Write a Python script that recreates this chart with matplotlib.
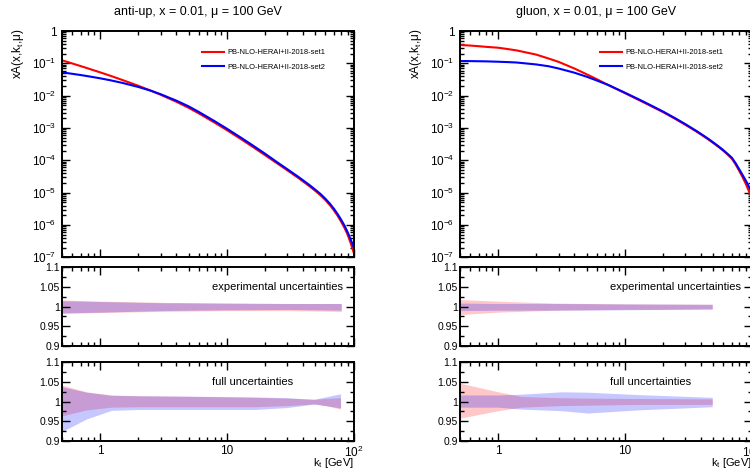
import numpy as np
import matplotlib

matplotlib.use('Agg')
import matplotlib.pyplot as plt
from matplotlib.ticker import LogLocator, FixedLocator, FuncFormatter, NullFormatter, MultipleLocator

plt.rcParams['font.family'] = ['Liberation Sans', 'DejaVu Sans']
plt.rcParams['mathtext.default'] = 'regular'

# ---- anti-up central values
kt_ubar = [0.5, 0.6, 0.7, 0.8, 1.0, 1.2, 1.5, 2.0, 2.5, 3.0, 4.0, 5.0, 6.0, 8.0, 10, 13, 16,
           20, 25, 30, 37, 45, 50, 55, 60, 65, 70, 75, 80, 85, 90, 95, 100]
ubar_set1 = [0.124, 0.0995, 0.0824, 0.0698, 0.0526, 0.0414, 0.0305, 0.0202, 0.0144, 0.0107,
             6.47e-3, 4.20e-3, 2.84e-3, 1.47e-3, 8.61e-4, 4.47e-4, 2.62e-4, 1.45e-4, 8.02e-5,
             4.92e-5, 2.78e-5, 1.57e-5, 1.13e-5, 8.22e-6, 5.90e-6, 4.14e-6, 2.84e-6, 1.91e-6,
             1.25e-6, 8.05e-7, 4.93e-7, 2.76e-7, 1.47e-7]
ubar_set2 = [0.0526, 0.0475, 0.0435, 0.0400, 0.0344, 0.0300, 0.0248, 0.0186, 0.0143, 0.0111,
             7.01e-3, 4.66e-3, 3.15e-3, 1.63e-3, 9.55e-4, 4.95e-4, 2.90e-4, 1.61e-4, 8.69e-5,
             5.33e-5, 3.01e-5, 1.71e-5, 1.23e-5, 9.02e-6, 6.47e-6, 4.59e-6, 3.19e-6, 2.16e-6,
             1.44e-6, 9.46e-7, 5.93e-7, 3.56e-7, 2.09e-7]

# ---- gluon central values
kt_g = [0.5, 0.6, 0.7, 0.8, 1.0, 1.2, 1.4, 2.0, 2.5, 3.0, 4.0, 5.0, 6.0, 7.4, 10, 13, 16,
        20, 25, 30, 37, 45, 50, 55, 60, 65, 70, 75, 80, 85, 90, 95, 100]
g_set1 = [0.369, 0.355, 0.339, 0.324, 0.304, 0.275, 0.251, 0.186, 0.141, 0.111, 0.0692,
          0.0457, 0.0324, 0.0213, 0.0120, 7.23e-3, 4.82e-3, 3.10e-3, 1.91e-3, 1.26e-3,
          7.62e-4, 4.58e-4, 3.40e-4, 2.58e-4, 1.96e-4, 1.49e-4, 1.12e-4, 7.40e-5, 4.71e-5,
          3.01e-5, 1.90e-5, 1.15e-5, 6.95e-6]
g_set2 = [0.118, 0.117, 0.116, 0.115, 0.112, 0.109, 0.106, 0.0923, 0.0813, 0.0692, 0.0513,
          0.0385, 0.0295, 0.0214, 0.0124, 7.57e-3, 5.05e-3, 3.24e-3, 2.00e-3, 1.32e-3,
          7.98e-4, 4.80e-4, 3.56e-4, 2.70e-4, 2.06e-4, 1.56e-4, 1.20e-4, 8.11e-5, 5.28e-5,
          3.53e-5, 2.39e-5, 1.59e-5, 1.05e-5]

# ---- anti-up ratio bands
kt_ubar_exp = [0.5, 1, 3, 10, 30, 80]
ubar_exp1_up = [1.017, 1.014, 1.011, 1.009, 1.008, 1.008]
ubar_exp1_dn = [0.983, 0.985, 0.988, 0.990, 0.990, 0.988]
ubar_exp2_up = [1.015, 1.013, 1.010, 1.009, 1.008, 1.008]
ubar_exp2_dn = [0.984, 0.986, 0.990, 0.992, 0.993, 0.991]

kt_ubar_full = [0.5, 0.78, 1.23, 2, 5, 16.5, 30, 49, 60, 79]
ubar_full1_up = [1.042, 1.025, 1.017, 1.015, 1.0135, 1.011, 1.009, 1.006, 1.008, 1.010]
ubar_full1_dn = [0.964, 0.979, 0.986, 0.987, 0.987, 0.987, 0.990, 0.994, 0.990, 0.981]
ubar_full2_up = [1.038, 1.024, 1.016, 1.015, 1.014, 1.012, 1.010, 1.006, 1.012, 1.020]
ubar_full2_dn = [0.924, 0.956, 0.978, 0.980, 0.980, 0.980, 0.985, 0.994, 0.990, 0.984]

# ---- gluon ratio bands
kt_g_exp = [0.5, 1, 2.8, 10, 49]
g_exp1_up = [1.018, 1.014, 1.009, 1.007, 1.006]
g_exp1_dn = [0.980, 0.986, 0.991, 0.993, 0.994]
g_exp2_up = [1.009, 1.008, 1.008, 1.007, 1.006]
g_exp2_dn = [0.990, 0.991, 0.991, 0.992, 0.994]

kt_g_full = [0.5, 1, 1.53, 3.16, 5.1, 12.6, 49]
g_full1_up = [1.047, 1.025, 1.013, 1.010, 1.009, 1.008, 1.007]
g_full1_dn = [0.958, 0.977, 0.986, 0.990, 0.991, 0.993, 0.993]
g_full2_up = [1.017, 1.017, 1.019, 1.025, 1.024, 1.018, 1.011]
g_full2_dn = [0.986, 0.986, 0.981, 0.977, 0.971, 0.979, 0.987]

titles = ['anti-up, x = 0.01, \u03bc = 100 GeV', 'gluon, x = 0.01, \u03bc = 100 GeV']
labels = ['PB-NLO-HERAI+II-2018-set1', 'PB-NLO-HERAI+II-2018-set2']

W, H = 750, 475
fig = plt.figure(figsize=(7.5, 4.75), dpi=100)


def box(x0, ytop, ybot):
    return [x0 / W, 1 - ybot / H, 291.5 / W, (ybot - ytop) / H]


def style(ax):
    for s in ax.spines.values():
        s.set_linewidth(1.4)
    ax.tick_params(which='both', direction='in', top=True, right=True, width=1.0, labelsize=8.5)
    ax.tick_params(which='major', length=5.5)
    ax.tick_params(which='minor', length=3)
    ax.set_xscale('log')
    ax.set_xlim(0.5, 100)
    ax.xaxis.set_major_locator(FixedLocator([1, 10, 100]))
    ax.xaxis.set_minor_locator(LogLocator(base=10, subs=np.arange(2, 10)))
    ax.xaxis.set_minor_formatter(NullFormatter())


def xfmt(v, pos):
    return '$10^{2}$' if v >= 100 else '%g' % v


def yfmt(v, pos):
    return '1' if v == 1 else '$10^{%d}$' % round(np.log10(v))


panels = [
    (62, kt_ubar, ubar_set1, ubar_set2,
     (kt_ubar_exp, ubar_exp1_up, ubar_exp1_dn, ubar_exp2_up, ubar_exp2_dn),
     (kt_ubar_full, ubar_full1_up, ubar_full1_dn, ubar_full2_up, ubar_full2_dn)),
    (460, kt_g, g_set1, g_set2,
     (kt_g_exp, g_exp1_up, g_exp1_dn, g_exp2_up, g_exp2_dn),
     (kt_g_full, g_full1_up, g_full1_dn, g_full2_up, g_full2_dn)),
]

for i, (x0, kt, s1, s2, exp, full) in enumerate(panels):
    ax = fig.add_axes(box(x0, 31, 257.3))
    style(ax)
    ax.plot(kt, s1, color='red', lw=1.5, label=labels[0])
    ax.plot(kt, s2, color='blue', lw=1.5, label=labels[1])
    ax.set_yscale('log')
    ax.set_ylim(1e-7, 1)
    ax.yaxis.set_major_locator(LogLocator(base=10, numticks=10))
    ax.yaxis.set_minor_locator(LogLocator(base=10, subs=np.arange(2, 10), numticks=10))
    ax.yaxis.set_major_formatter(FuncFormatter(yfmt))
    ax.yaxis.set_minor_formatter(NullFormatter())
    ax.tick_params(axis='y', pad=4)
    ax.set_xticklabels([])
    ax.text(-0.15, 1.01, 'xA(x,k$_{t}$,\u03bc)', rotation=90, ha='center', va='top',
            fontsize=8.5, transform=ax.transAxes)
    ax.text(0.467, 1.086, titles[i], ha='center', va='center', fontsize=9, transform=ax.transAxes)
    ax.legend(loc='upper left', bbox_to_anchor=(0.48, 0.92), frameon=False, fontsize=5.4,
              handlelength=2.9, handletextpad=0.5, labelspacing=0.95, borderaxespad=0, borderpad=0)

    for j, (band, txt, ytop, ybot) in enumerate([(exp, 'experimental uncertainties', 267.3, 346),
                                                 (full, 'full uncertainties', 362.3, 441)]):
        r = fig.add_axes(box(x0, ytop, ybot))
        style(r)
        k, u1, d1, u2, d2 = band
        r.fill_between(k, d1, u1, color='red', alpha=0.22, lw=0)
        r.fill_between(k, d2, u2, color='blue', alpha=0.22, lw=0)
        r.set_ylim(0.9, 1.1)
        r.yaxis.set_major_locator(FixedLocator([0.9, 0.95, 1.0, 1.05, 1.1]))
        r.yaxis.set_minor_locator(MultipleLocator(0.025))
        r.yaxis.set_major_formatter(FuncFormatter(lambda v, p: '%g' % v))
        r.tick_params(axis='y', pad=1.5, labelsize=7.5)
        r.text(0.515, 0.75, txt, ha='left', va='center', fontsize=8, transform=r.transAxes)
        if j == 0:
            r.set_xticklabels([])
        else:
            r.xaxis.set_major_formatter(FuncFormatter(xfmt))
            r.tick_params(axis='x', pad=3)
            r.text(1.0, -0.28, 'k$_{t}$ [GeV]', ha='right', va='center', fontsize=8,
                   transform=r.transAxes)

fig.savefig('out.png', dpi=100)
